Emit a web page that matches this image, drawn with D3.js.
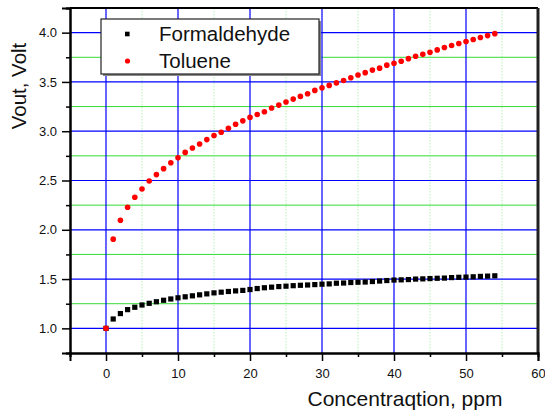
<!DOCTYPE html>
<html>
<head>
<meta charset="utf-8">
<script src="https://cdn.jsdelivr.net/npm/d3@7"></script>
<style>
  body { margin: 0; background: #fff; }
  text { font-family: "Liberation Sans", Arial, sans-serif; fill: #111; }
</style>
</head>
<body>
<div id="chart"></div>
<script>
// concentration, ppm (same for both series)
const conc = d3.range(0, 55);

const formaldehyde = [
  1.00, 1.095, 1.15, 1.19, 1.214, 1.237, 1.254, 1.27, 1.285, 1.298,
  1.31, 1.32, 1.33, 1.34, 1.35, 1.36, 1.367, 1.374, 1.38, 1.385,
  1.394, 1.404, 1.412, 1.418, 1.424, 1.428, 1.433, 1.437, 1.440, 1.444,
  1.448, 1.451, 1.458, 1.460, 1.465, 1.468, 1.470, 1.475, 1.480, 1.485,
  1.490, 1.492, 1.495, 1.500, 1.502, 1.505, 1.508, 1.510, 1.515, 1.518,
  1.520, 1.523, 1.527, 1.530, 1.533
];

const toluene = [
  1.00, 1.905, 2.097, 2.228, 2.33, 2.414, 2.495, 2.56, 2.62, 2.68,
  2.73, 2.785, 2.83, 2.87, 2.915, 2.957, 2.99, 3.03, 3.07, 3.105,
  3.14, 3.17, 3.197, 3.235, 3.265, 3.296, 3.326, 3.353, 3.38, 3.414,
  3.44, 3.465, 3.49, 3.515, 3.543, 3.57, 3.594, 3.62, 3.64, 3.67,
  3.69, 3.71, 3.736, 3.76, 3.78, 3.80, 3.825, 3.85, 3.87, 3.89,
  3.91, 3.93, 3.95, 3.97, 3.99
];

const xMajor = [0, 10, 20, 30, 40, 50, 60];
const xMinor = [-5, 5, 15, 25, 35, 45, 55];
const yMajor = [1.0, 1.5, 2.0, 2.5, 3.0, 3.5, 4.0];
const yMinor = [0.75, 1.25, 1.75, 2.25, 2.75, 3.25, 3.75, 4.25];

const legendItems = [
  { name: "Formaldehyde", shape: "square", color: "#000" },
  { name: "Toluene", shape: "circle", color: "#ff0000" }
];

const W = 545, H = 410;
const margin = { top: 8, right: 7, bottom: 57, left: 70 };
const iw = W - margin.left - margin.right;
const ih = H - margin.top - margin.bottom;

const svg = d3.select("#chart").append("svg")
  .attr("width", W)
  .attr("height", H);

const g = svg.append("g")
  .attr("transform", `translate(${margin.left},${margin.top})`);

const x = d3.scaleLinear().domain([-5, 60]).range([0, iw]);
const y = d3.scaleLinear().domain([0.75, 4.25]).range([ih, 0]);

// grid - minor first
g.selectAll(".vminor").data(xMinor.slice(1))
  .enter().append("line")
  .attr("x1", d => x(d)).attr("x2", d => x(d))
  .attr("y1", 0).attr("y2", ih)
  .attr("stroke", "#b8f0b8")
  .attr("stroke-dasharray", "1.5,1.5")
  .attr("stroke-width", 1);

g.selectAll(".hminor").data(yMinor.slice(1, -1))
  .enter().append("line")
  .attr("x1", 0).attr("x2", iw)
  .attr("y1", d => y(d)).attr("y2", d => y(d))
  .attr("stroke", "#33dd33")
  .attr("stroke-width", 1);

g.selectAll(".vmajor").data(xMajor.slice(0, -1))
  .enter().append("line")
  .attr("x1", d => x(d)).attr("x2", d => x(d))
  .attr("y1", 0).attr("y2", ih)
  .attr("stroke", "#0000ff")
  .attr("stroke-width", 1.2);

g.selectAll(".hmajor").data(yMajor)
  .enter().append("line")
  .attr("x1", 0).attr("x2", iw)
  .attr("y1", d => y(d)).attr("y2", d => y(d))
  .attr("stroke", "#0000ff")
  .attr("stroke-width", 1.2);

// frame
g.append("line").attr("x1", 0).attr("x2", iw).attr("y1", 0).attr("y2", 0)
  .attr("stroke", "#000").attr("stroke-width", 2);
g.append("line").attr("x1", iw).attr("x2", iw).attr("y1", 0).attr("y2", ih)
  .attr("stroke", "#222").attr("stroke-width", 3);

// axes
const xAxis = g.append("g").attr("transform", `translate(0,${ih})`)
  .call(d3.axisBottom(x).tickValues(xMajor).tickSize(8).tickFormat(d3.format("d")));
g.append("g").attr("transform", `translate(0,${ih})`)
  .call(d3.axisBottom(x).tickValues(xMinor).tickSize(4).tickFormat(""));
const yAxis = g.append("g")
  .call(d3.axisLeft(y).tickValues(yMajor).tickSize(8).tickFormat(d3.format(".1f")));
g.append("g")
  .call(d3.axisLeft(y).tickValues(yMinor).tickSize(4).tickFormat(""));

g.selectAll(".domain").attr("stroke", "#000").attr("stroke-width", 2);
g.selectAll(".tick line").attr("stroke", "#000").attr("stroke-width", 1.5);
g.selectAll(".tick text")
  .style("font-family", "'Liberation Sans', Arial, sans-serif")
  .style("font-size", "13px")
  .attr("fill", "#222");
xAxis.selectAll(".tick text").attr("dy", "1.1em");
yAxis.selectAll(".tick text").attr("dx", "-0.15em");

// data
g.selectAll(".form").data(conc)
  .enter().append("rect")
  .attr("x", (d, i) => x(d) - 2.6)
  .attr("y", (d, i) => y(formaldehyde[i]) - 2.6)
  .attr("width", 5.2).attr("height", 5.2)
  .attr("fill", "#000");

g.selectAll(".tol").data(conc)
  .enter().append("circle")
  .attr("cx", d => x(d))
  .attr("cy", (d, i) => y(toluene[i]))
  .attr("r", 2.8)
  .attr("fill", "#ff0000");

// legend
const lg = svg.append("g").attr("transform", "translate(101,19)");
lg.append("rect").attr("x", 2).attr("y", 2).attr("width", 218).attr("height", 55)
  .attr("fill", "#888");
lg.append("rect").attr("x", 0).attr("y", 0).attr("width", 218).attr("height", 55)
  .attr("fill", "#fff").attr("stroke", "#222").attr("stroke-width", 1.2);

const li = lg.selectAll(".li").data(legendItems).enter().append("g")
  .attr("transform", (d, i) => `translate(0,${15 + i * 27})`);
li.filter(d => d.shape === "square").append("rect")
  .attr("x", 24).attr("y", -2.3).attr("width", 4.6).attr("height", 4.6)
  .attr("fill", d => d.color);
li.filter(d => d.shape === "circle").append("circle")
  .attr("cx", 26.5).attr("cy", 0).attr("r", 2.6)
  .attr("fill", d => d.color);
li.append("text")
  .attr("x", 58).attr("y", 0).attr("dy", "0.36em")
  .style("font-size", "20.5px")
  .text(d => d.name);

// axis titles
svg.append("text")
  .attr("transform", "translate(26,86) rotate(-90)")
  .attr("text-anchor", "middle")
  .style("font-size", "20.5px")
  .text("Vout, Volt");

svg.append("text")
  .attr("x", 405).attr("y", 406)
  .attr("text-anchor", "middle")
  .style("font-size", "21px")
  .text("Concentraqtion, ppm");
</script>
</body>
</html>
